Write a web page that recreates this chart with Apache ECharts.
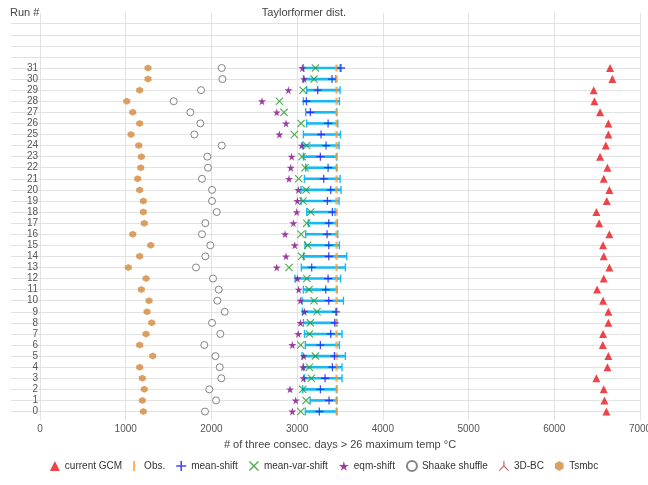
<!DOCTYPE html>
<html>
<head>
<meta charset="utf-8">
<script src="https://cdn.jsdelivr.net/npm/echarts@6/dist/echarts.min.js"></script>
<style>html,body{margin:0;padding:0;background:#fff;}#c{width:648px;height:485px;}</style>
</head>
<body>
<div id="c"></div>
<script>
// Run numbers 0..31
const runs = [0,1,2,3,4,5,6,7,8,9,10,11,12,13,14,15,16,17,18,19,20,21,22,23,24,25,26,27,28,29,30,31];
const xTicks = [0,1000,2000,3000,4000,5000,6000,7000];
const obsValue = 3460;
const currentGCM = [6608,6585,6577,6491,6620,6631,6566,6569,6631,6631,6569,6500,6577,6643,6577,6569,6643,6523,6491,6612,6643,6577,6620,6534,6601,6631,6631,6534,6468,6460,6678,6651];
const meanShift = [3259,3372,3271,3326,3411,3435,3271,3392,3439,3454,3369,3334,3361,3170,3369,3369,3349,3369,3411,3353,3392,3310,3361,3271,3337,3279,3361,3154,3108,3240,3407,3512];
const rangeLow = [3096,3151,3065,3085,3073,3057,3096,3085,3073,3061,3057,3073,2975,3049,3073,3092,3100,3131,3112,3045,3045,3085,3100,3073,3065,3073,3112,3100,3073,3112,3073,3073];
const rangeHigh = [3462,3462,3462,3524,3524,3563,3493,3524,3462,3462,3540,3466,3508,3563,3579,3493,3474,3470,3442,3489,3512,3501,3462,3462,3489,3505,3474,3462,3493,3501,3450,3501];
const meanVarShift = [3042,3104,3065,3166,3143,3213,3042,3143,3154,3232,3197,3139,3112,2905,3053,3123,3046,3112,3159,3069,3104,3018,3092,3057,3112,2968,3046,2847,2793,3069,3197,3213];
const eqmShift = [2944,2983,2917,3073,3069,3077,2944,3014,3038,3085,3038,3018,3003,2762,2870,2972,2859,2956,2995,3003,3014,2905,2925,2936,3053,2793,2870,2762,2590,2898,3081,3061];
const shaake = [1925,2054,1975,2116,2097,2046,1917,2104,2007,2155,2069,2085,2019,1820,1929,1987,1890,1929,2062,2007,2007,1890,1960,1952,2120,1801,1871,1754,1560,1879,2128,2120];
const bc3d = [];
const tsmbc = [1205,1194,1217,1194,1163,1315,1163,1237,1303,1249,1272,1182,1237,1030,1163,1292,1082,1217,1205,1205,1163,1140,1175,1182,1152,1062,1163,1082,1012,1163,1260,1260];

const FONT = 'Liberation Sans, Arial, sans-serif';
const GRID = '#e2e2e2';
const pts = arr => arr.map((v, i) => [v, runs[i]]);

const starPath = 'path://M50,0 L61,35 L98,35 L68,57 L79,91 L50,70 L21,91 L32,57 L2,35 L39,35Z';
const plusPath = 'path://M4.2,0H5.8V4.2H10V5.8H5.8V10H4.2V5.8H0V4.2H4.2Z';
const xPath = 'path://M1,0 L5,4 L9,0 L10,1 L6,5 L10,9 L9,10 L5,6 L1,10 L0,9 L4,5 L0,1Z';
const triUpPath = 'path://M4.4,0 L5.6,0 L5.6,4.6 L10,9.2 L9.2,10 L5,5.8 L0.8,10 L0,9.2 L4.4,4.6Z';
const hexPath = 'path://M5,0 L9.33,2.5 L9.33,7.5 L5,10 L0.67,7.5 L0.67,2.5Z';

const yTickVals = [];
for (let i = 0; i <= 35; i++) yTickVals.push(i);
const splitColors = yTickVals.map(() => GRID).concat(['rgba(0,0,0,0)']);

const chart = echarts.init(document.getElementById('c'), null, {renderer: 'canvas'});
chart.setOption({
  animation: false,
  backgroundColor: '#fff',
  textStyle: {fontFamily: FONT},
  graphic: [
    {type: 'text', left: 10, top: 7, style: {text: 'Run #', fontSize: 11, fill: '#444', fontFamily: FONT}},
    {type: 'text', x: 304, y: 13, style: {text: 'Taylorformer dist.', fontSize: 11, fill: '#444', fontFamily: FONT, textAlign: 'center', textVerticalAlign: 'middle'}}
  ],
  grid: {left: 40, right: 8, top: 12.6, bottom: 73.5, containLabel: false, outerBoundsMode: 'none'},
  xAxis: {
    type: 'value', min: 0, max: 7000, interval: 1000,
    name: '# of three consec. days > 26 maximum temp °C',
    nameLocation: 'middle', nameGap: 27,
    nameTextStyle: {fontSize: 11, color: '#444', fontFamily: FONT},
    axisLine: {show: false},
    axisTick: {show: true, length: 9, lineStyle: {color: GRID}},
    axisLabel: {fontSize: 10, color: '#555', margin: 13, fontFamily: FONT, customValues: xTicks, formatter: v => String(v)},
    splitLine: {show: true, lineStyle: {color: GRID, width: 1}}
  },
  yAxis: {
    type: 'value', min: 0, max: 36, interval: 1,
    axisLine: {show: false},
    axisTick: {show: true, length: 29, customValues: yTickVals, lineStyle: {color: GRID}},
    axisLabel: {fontSize: 10, color: '#555', margin: 2, fontFamily: FONT, customValues: runs},
    splitLine: {show: true, lineStyle: {color: splitColors, width: 1}}
  },
  legend: {
    bottom: 8, left: 'center', itemWidth: 10, itemHeight: 10, itemGap: 11,
    textStyle: {fontSize: 10, color: '#333', fontFamily: FONT},
    data: [
      {name: 'current GCM'},
      {name: 'Obs.', icon: 'path://M0,0 L2,0 L2,10 L0,10Z'},
      {name: 'mean-shift'},
      {name: 'mean-var-shift'},
      {name: 'eqm-shift'},
      {name: 'Shaake shuffle'},
      {name: '3D-BC'},
      {name: 'Tsmbc'}
    ]
  },
  series: [
    {
      name: 'range', type: 'custom', z: 2, silent: true,
      data: rangeLow.map((lo, i) => [lo, rangeHigh[i], runs[i]]),
      encode: {x: [0, 1], y: 2},
      renderItem: function (params, api) {
        const a = api.coord([api.value(0), api.value(2)]);
        const b = api.coord([api.value(1), api.value(2)]);
        const col = '#18b9f2';
        return {
          type: 'group',
          children: [
            {type: 'line', shape: {x1: a[0], y1: a[1], x2: b[0], y2: b[1]}, style: {stroke: col, lineWidth: 2.6}},
            {type: 'line', shape: {x1: a[0], y1: a[1] - 4, x2: a[0], y2: a[1] + 4}, style: {stroke: col, lineWidth: 1.4}},
            {type: 'line', shape: {x1: b[0], y1: b[1] - 4, x2: b[0], y2: b[1] + 4}, style: {stroke: col, lineWidth: 1.4}}
          ]
        };
      }
    },
    {name: 'Obs.', type: 'scatter', z: 3, symbol: 'rect', symbolSize: [2.4, 7],
      itemStyle: {color: '#ff9a2a'}, data: runs.map(r => [obsValue, r])},
    {name: 'current GCM', type: 'scatter', z: 4, symbol: 'triangle', symbolSize: 8,
      itemStyle: {color: '#e8161c'}, data: pts(currentGCM)},
    {name: 'mean-shift', type: 'scatter', z: 4, symbol: plusPath, symbolSize: 8,
      itemStyle: {color: '#1a1aff'}, data: pts(meanShift)},
    {name: 'mean-var-shift', type: 'scatter', z: 4, symbol: xPath, symbolSize: 8,
      itemStyle: {color: '#249a24'}, data: pts(meanVarShift)},
    {name: 'eqm-shift', type: 'scatter', z: 4, symbol: starPath, symbolSize: 8,
      itemStyle: {color: '#86108a'}, data: pts(eqmShift)},
    {name: 'Shaake shuffle', type: 'scatter', z: 4, symbol: 'circle', symbolSize: 7,
      itemStyle: {color: '#fff', borderColor: '#666', borderWidth: 1}, data: pts(shaake)},
    {name: '3D-BC', type: 'scatter', z: 4, symbol: triUpPath, symbolSize: 8,
      itemStyle: {color: '#c0453c'}, data: pts(bc3d)},
    {name: 'Tsmbc', type: 'scatter', z: 4, symbol: hexPath, symbolSize: 7,
      itemStyle: {color: '#d4883c'}, data: pts(tsmbc)}
  ]
});
</script>
</body>
</html>
